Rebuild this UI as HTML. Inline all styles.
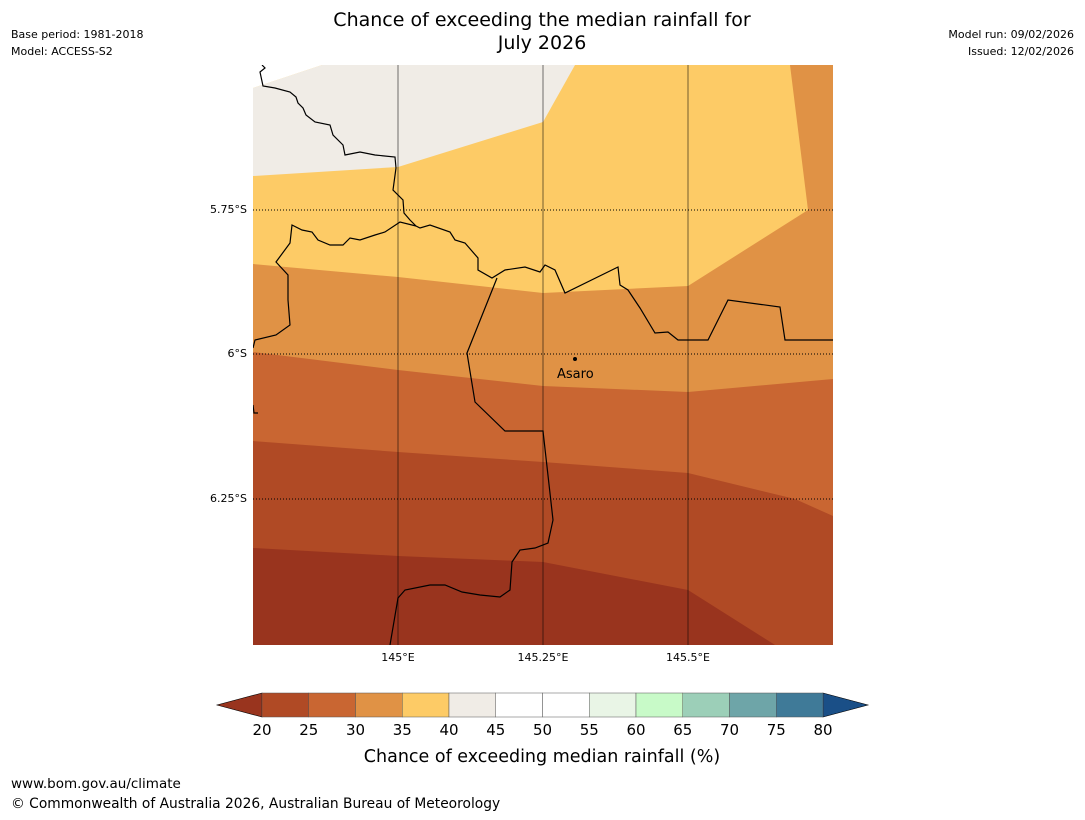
<!DOCTYPE html>
<html><head><meta charset="utf-8">
<style>
body{margin:0;background:#fff;width:1085px;height:816px;overflow:hidden;font-family:"DejaVu Sans","Liberation Sans",sans-serif;}
</style></head>
<body>
<svg width="1085" height="816" viewBox="0 0 1085 816" xmlns="http://www.w3.org/2000/svg">
<text x="542" y="26" text-anchor="middle" font-size="19">Chance of exceeding the median rainfall for</text>
<text x="542" y="49" text-anchor="middle" font-size="19">July 2026</text>
<text x="11" y="38" font-size="11">Base period: 1981-2018</text>
<text x="11" y="55" font-size="11">Model: ACCESS-S2</text>
<text x="1074" y="38" font-size="11" text-anchor="end">Model run: 09/02/2026</text>
<text x="1074" y="55" font-size="11" text-anchor="end">Issued: 12/02/2026</text>

<g>
<clipPath id="mc"><rect x="253" y="65" width="580" height="580"/></clipPath>
<g clip-path="url(#mc)">
<rect x="253" y="65" width="580" height="580" fill="#fdcb66"/>
<polygon fill="#f0ece6" points="253,88 322,65 575,65 543,122 398,167 253,176"/>
<polygon fill="#ffffff" points="253,65 322,65 253,88"/>
<polygon fill="#e09245" points="253,264 398,277 543,293 688,286 808,210 790,65 833,65 833,645 253,645"/>
<polygon fill="#c96632" points="253,352 398,370 543,386 688,392 833,379 833,645 253,645"/>
<polygon fill="#b04a25" points="253,441 398,452 543,462 688,473 795,499 833,516 833,645 253,645"/>
<polygon fill="#99341e" points="253,548 398,556 543,562 688,590 775,645 253,645"/>
<g stroke="#000" stroke-opacity="0.45" stroke-width="1.2">
<line x1="398" y1="65" x2="398" y2="645"/><line x1="543" y1="65" x2="543" y2="645"/><line x1="688" y1="65" x2="688" y2="645"/>
</g>
<g stroke="#000" stroke-width="1" stroke-dasharray="1,2">
<line x1="253" y1="210" x2="833" y2="210"/><line x1="253" y1="354" x2="833" y2="354"/><line x1="253" y1="499" x2="833" y2="499"/>
</g>
<g fill="none" stroke="#000" stroke-width="1.2">
<polyline points="262,65 265,68 260,72 263,86 275,88 290,92 296,97 298,103 303,108 306,115 315,122 330,125 333,135 343,145 345,155 360,152 375,155 395,157 396,168 393,190 403,200 404,213 410,220 416,226 420,228 430,225 450,232 455,240 465,243 478,258 478,270 492,278 505,270 525,267 540,272 545,265 555,270 565,293 618,267 620,285 628,290 640,308 655,333 668,332 678,340 708,340 728,300 780,307 785,340 833,340"/>
<polyline points="416,226 400,222 385,232 375,235 360,240 350,238 343,245 330,245 318,240 312,232 302,230 292,225 290,243 276,262 288,275 288,300 290,325 276,335 255,340 253,348"/>
<polyline points="497,278 467,353 475,402 505,431 543,431 553,520 548,543 535,548 520,550 512,562 510,590 500,597 480,595 462,592 445,585 430,585 405,590 398,598 390,645"/>
<polyline points="253,405 254,413 258,413"/>
</g>
<circle cx="575" cy="359" r="2" fill="#000"/>
<text x="557" y="378" font-size="13">Asaro</text>
</g>
</g>
<g font-size="11">
<text x="247" y="213" text-anchor="end">5.75°S</text>
<text x="247" y="357" text-anchor="end">6°S</text>
<text x="247" y="502" text-anchor="end">6.25°S</text>
<text x="398" y="661" text-anchor="middle">145°E</text>
<text x="543" y="661" text-anchor="middle">145.25°E</text>
<text x="688" y="661" text-anchor="middle">145.5°E</text>
</g>

<g id="cb"></g>
<text x="542" y="762" text-anchor="middle" font-size="17.5">Chance of exceeding median rainfall (%)</text>
<text x="11" y="788" font-size="13.5">www.bom.gov.au/climate</text>
<text x="11" y="808" font-size="13.8">© Commonwealth of Australia 2026, Australian Bureau of Meteorology</text>
</svg>
<script>
const cbTicks=[20,25,30,35,40,45,50,55,60,65,70,75,80];
const cbColors=["#b04a25","#c96632","#e09245","#fdcb66","#f0ece6","#ffffff","#ffffff","#e9f5e6","#c8fac8","#9ccfb8","#6ea5a8","#3f7a98"];
const ns="http://www.w3.org/2000/svg";
const g=document.getElementById('cb');
const x0=262,x1=823,y0=693,h=24;
const sx=v=>x0+(v-20)/60*(x1-x0);
function mk(t,a){const e=document.createElementNS(ns,t);for(const k in a)e.setAttribute(k,a[k]);g.appendChild(e);return e;}
const l=mk('polygon',{points:`${x0},${y0} 217,${y0+h/2} ${x0},${y0+h}`,fill:'#99341e',stroke:'#000','stroke-width':0.6});


const r=mk('polygon',{points:`${x1},${y0} 868,${y0+h/2} ${x1},${y0+h}`,fill:'#1a4f87',stroke:'#000','stroke-width':0.6});


cbColors.forEach((c,i)=>{
 const a=sx(cbTicks[i]),b=sx(cbTicks[i+1]);
 const e=mk('rect',{x:a,y:y0,width:b-a,height:h,fill:c,stroke:'#555','stroke-width':0.5});
 
 
});
cbTicks.forEach(v=>{
 const t=mk('text',{x:sx(v),y:735,'text-anchor':'middle','font-size':15});
 t.textContent=v;
 
 
});
</script>
</body></html>
